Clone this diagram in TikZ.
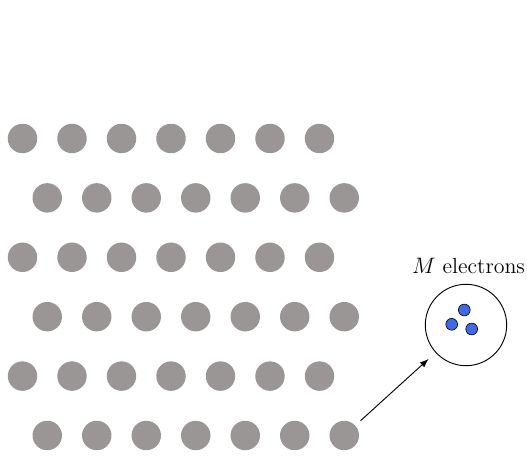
\documentclass[tikz,border=0pt]{standalone}
\usepackage{tikz}
\usetikzlibrary{arrows.meta}
\definecolor{atomgray}{RGB}{154,150,149}
\definecolor{electronblue}{RGB}{65,105,230}
\begin{document}
\begin{tikzpicture}[x=0.645pt, y=-0.645pt,
    atom/.style={circle, fill=atomgray, inner sep=0pt, minimum size=19pt},
    electron/.style={circle, draw, fill=electronblue, inner sep=0pt, minimum size=7.6pt},
    cell/.style={circle, draw, semithick, inner sep=0pt, minimum size=52.5pt}]
    \useasboundingbox (0,0) rectangle (527,456);
    % ion lattice
    \foreach \r in {0,...,5}
      \foreach \c in {0,...,6}
        \node[atom] (a-\r-\c) at ({22.5+49.5*\c+24.75*mod(\r,2)}, {138.5+59.4*\r}) {};
    % magnified region with its electrons
    \node[cell] (cell) at (466,325) {};
    \node[electron] (e1) at (464.3,310) {};
    \node[electron] (e2) at (451.7,324.3) {};
    \node[electron] (e3) at (471.7,329) {};
    \node[font=\fontsize{14.1}{17}\selectfont] (lbl) at (468.5,266) {$M$ electrons};
    \draw[-Latex, semithick, shorten <=4.5pt, shorten >=6pt] (a-5-6) -- (cell);
\end{tikzpicture}
\end{document}
